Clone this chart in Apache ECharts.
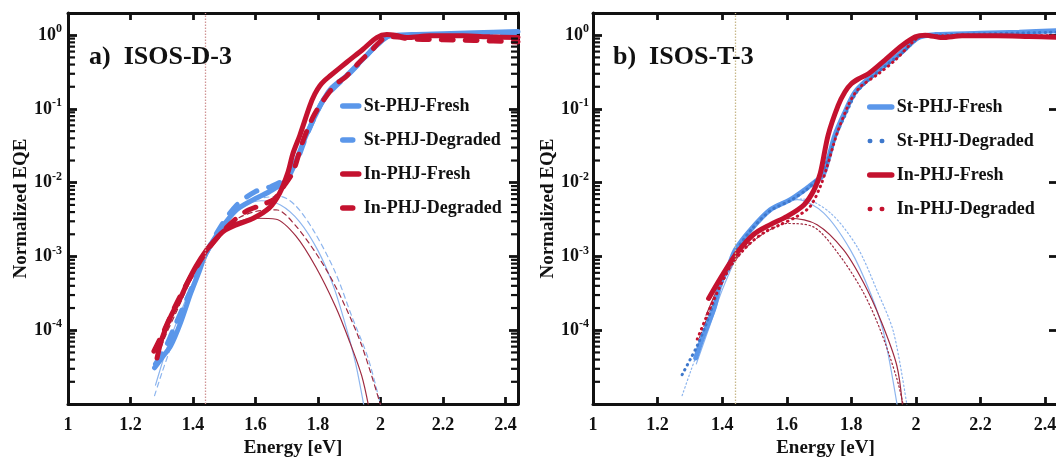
<!DOCTYPE html>
<html>
<head>
<meta charset="utf-8">
<script src="https://cdn.jsdelivr.net/npm/echarts@6/dist/echarts.min.js"></script>
<style>
html, body { margin: 0; padding: 0; background: #fff; }
#chart { width: 1056px; height: 458px; }
</style>
</head>
<body>
<div id="chart"></div>
<script>
// energy [eV] / normalized EQE pairs
// panel a) ISOS-D-3
const aStFresh = [[1.277,3.1e-5],[1.30,4.2e-5],[1.329,6.2e-5],[1.36,1.26e-4],[1.393,3.2e-4],[1.42,6.3e-4],[1.44,1.07e-3],[1.487,2.3e-3],[1.54,4.3e-3],[1.593,5.9e-3],[1.645,7.6e-3],[1.70,1.1e-2],[1.73,2.0e-2],[1.76,4.2e-2],[1.79,7.9e-2],[1.81,0.117],[1.84,0.186],[1.89,0.28],[1.945,0.48],[1.99,0.74],[2.03,0.98],[2.10,1.02],[2.20,1.05],[2.30,1.08],[2.44,1.12]]
const aStDegraded = [[1.28,3.5e-5],[1.31,5.6e-5],[1.34,1.1e-4],[1.39,3.3e-4],[1.44,1.07e-3],[1.49,2.6e-3],[1.54,5.0e-3],[1.60,7.6e-3],[1.65,8.9e-3],[1.69,1.1e-2],[1.73,1.9e-2],[1.76,4.0e-2],[1.79,7.9e-2],[1.82,0.138],[1.86,0.21],[1.90,0.30],[1.95,0.50],[1.99,0.76],[2.03,0.98],[2.20,1.0],[2.44,1.05]]
const aInFresh = [[1.285,4.2e-5],[1.30,7.6e-5],[1.329,1.55e-4],[1.36,2.75e-4],[1.382,4.4e-4],[1.41,7.4e-4],[1.44,1.17e-3],[1.47,1.66e-3],[1.498,2.2e-3],[1.54,2.7e-3],[1.593,3.3e-3],[1.645,4.6e-3],[1.677,7.2e-3],[1.703,1.35e-2],[1.72,2.5e-2],[1.742,4.4e-2],[1.774,0.111],[1.79,0.16],[1.806,0.207],[1.822,0.245],[1.838,0.28],[1.892,0.43],[1.945,0.65],[1.988,0.93],[2.02,1.02],[2.05,0.99],[2.084,0.93],[2.158,0.98],[2.265,0.98],[2.35,0.95],[2.44,0.93]]
const aInDegraded = [[1.275,5.2e-5],[1.308,1.0e-4],[1.34,2.0e-4],[1.382,4.4e-4],[1.44,1.12e-3],[1.50,2.3e-3],[1.566,4.0e-3],[1.62,5.0e-3],[1.66,6.0e-3],[1.69,8.9e-3],[1.72,1.4e-2],[1.75,3.5e-2],[1.785,7.9e-2],[1.827,0.15],[1.86,0.22],[1.892,0.28],[1.93,0.42],[1.966,0.59],[2.009,0.89],[2.04,0.95],[2.10,0.89],[2.20,0.87],[2.30,0.85],[2.44,0.81]]
const aStFreshFit = [[1.28,1.8e-5],[1.32,6.3e-5],[1.37,2.2e-4],[1.42,7.1e-4],[1.47,1.8e-3],[1.52,3.4e-3],[1.57,5.0e-3],[1.62,5.7e-3],[1.68,5.0e-3],[1.74,3.0e-3],[1.80,1.2e-3],[1.85,3.9e-4],[1.89,1.1e-4],[1.92,3.6e-5],[1.95,8e-6]]
const aStDegradedFit = [[1.277,1.3e-5],[1.30,2.6e-5],[1.33,6e-5],[1.38,2.2e-4],[1.43,7.5e-4],[1.48,1.9e-3],[1.53,3.7e-3],[1.58,5.4e-3],[1.63,6.3e-3],[1.68,6.5e-3],[1.73,4.8e-3],[1.79,2.1e-3],[1.856,6.0e-4],[1.908,1.55e-4],[1.961,4.1e-5],[2.005,8e-6]]
const aInFreshFit = [[1.29,5e-5],[1.33,1.4e-4],[1.38,4.2e-4],[1.43,1.0e-3],[1.48,1.9e-3],[1.53,2.8e-3],[1.60,3.3e-3],[1.666,3.2e-3],[1.729,1.9e-3],[1.793,7.2e-4],[1.856,2.1e-4],[1.898,7.6e-5],[1.94,2.4e-5],[1.965,8e-6]]
const aInDegradedFit = [[1.28,3.5e-5],[1.31,8e-5],[1.35,1.9e-4],[1.40,5.5e-4],[1.45,1.3e-3],[1.50,2.4e-3],[1.55,3.4e-3],[1.603,4.1e-3],[1.666,4.3e-3],[1.729,2.6e-3],[1.814,8.1e-4],[1.877,2.6e-4],[1.94,6.2e-5],[2.006,8e-6]]
// panel b) ISOS-T-3
const bStFresh = [[1.318,4.2e-5],[1.335,7.0e-5],[1.354,1.15e-4],[1.375,2.0e-4],[1.395,4.4e-4],[1.418,7.0e-4],[1.441,1.23e-3],[1.488,2.3e-3],[1.549,4.3e-3],[1.611,5.9e-3],[1.663,8.5e-3],[1.69,1.05e-2],[1.712,1.26e-2],[1.73,2.2e-2],[1.749,4.4e-2],[1.78,9.0e-2],[1.811,0.168],[1.853,0.257],[1.904,0.39],[1.956,0.59],[2.008,0.93],[2.06,1.02],[2.20,1.06],[2.32,1.1],[2.44,1.15]]
const bStDegraded = [[1.276,2.5e-5],[1.302,4.1e-5],[1.323,6.2e-5],[1.35,1.2e-4],[1.395,4.2e-4],[1.441,1.15e-3],[1.49,2.3e-3],[1.55,4.2e-3],[1.61,5.7e-3],[1.66,8.0e-3],[1.70,1.2e-2],[1.73,2.2e-2],[1.752,4.3e-2],[1.785,9e-2],[1.815,0.165],[1.855,0.25],[1.905,0.38],[1.958,0.58],[2.01,0.92],[2.06,1.0],[2.20,1.04],[2.44,1.1]]
const bInFresh = [[1.358,2.7e-4],[1.405,6.0e-4],[1.446,1.12e-3],[1.498,2.0e-3],[1.549,2.7e-3],[1.601,3.5e-3],[1.653,5.0e-3],[1.684,7.9e-3],[1.704,1.35e-2],[1.728,4.4e-2],[1.759,0.111],[1.78,0.17],[1.80,0.22],[1.825,0.26],[1.853,0.30],[1.904,0.46],[1.956,0.72],[1.998,0.95],[2.029,1.0],[2.081,0.93],[2.143,0.98],[2.25,0.98],[2.35,0.96],[2.44,0.94]]
const bInDegraded = [[1.323,7.6e-5],[1.374,2.6e-4],[1.426,7.4e-4],[1.477,1.38e-3],[1.529,2.1e-3],[1.58,2.7e-3],[1.632,3.5e-3],[1.673,4.8e-3],[1.704,8.9e-3],[1.725,1.66e-2],[1.754,4.4e-2],[1.79,0.111],[1.81,0.16],[1.832,0.207],[1.884,0.30],[1.936,0.46],[1.988,0.79],[2.019,0.98],[2.10,0.98],[2.25,0.99],[2.44,0.98]]
const bStFreshFit = [[1.32,3.5e-5],[1.36,1.1e-4],[1.40,3.5e-4],[1.45,1.1e-3],[1.50,2.6e-3],[1.56,4.6e-3],[1.632,5.9e-3],[1.714,3.9e-3],[1.797,1.23e-3],[1.859,3.2e-4],[1.90,9.3e-5],[1.945,8e-6]]
const bStDegradedFit = [[1.276,1.3e-5],[1.30,2.6e-5],[1.33,6e-5],[1.37,1.8e-4],[1.42,6.5e-4],[1.48,1.9e-3],[1.55,4.3e-3],[1.60,5.8e-3],[1.65,6.0e-3],[1.735,3.9e-3],[1.818,1.35e-3],[1.879,3.5e-4],[1.931,9.3e-5],[1.975,8e-6]]
const bInFreshFit = [[1.35,1.6e-4],[1.40,5.0e-4],[1.45,1.2e-3],[1.50,2.1e-3],[1.55,2.8e-3],[1.611,3.3e-3],[1.694,2.7e-3],[1.776,1.23e-3],[1.838,4.4e-4],[1.89,1.4e-4],[1.941,3.3e-5],[1.96,8e-6]]
const bInDegradedFit = [[1.33,8e-5],[1.38,2.8e-4],[1.43,7.5e-4],[1.48,1.4e-3],[1.54,2.2e-3],[1.601,2.8e-3],[1.684,2.5e-3],[1.766,1.0e-3],[1.838,3.2e-4],[1.89,1.0e-4],[1.941,2.2e-5],[1.965,8e-6]]

const bandGap = 1.442
const legendNames = ['St-PHJ-Fresh', 'St-PHJ-Degraded', 'In-PHJ-Fresh', 'In-PHJ-Degraded']
const logMinorTicks = []
;[1e-5, 1e-4, 1e-3, 1e-2, 1e-1].forEach(d => {
  for (let k = 2; k <= 9; k++) logMinorTicks.push(+(k * d).toPrecision(3))
})
const X_MIN = 1, X_MAX = 2.44, Y_MIN = 1e-5, Y_MAX = 2

const FONT = "'Liberation Serif', 'DejaVu Serif', serif"
const INK = '#111'
const BLUE = '#5b97ea'
const BLUE_DOT = '#3e78cc'
const RED = '#c4122f'
const BLUE_FIT = '#8db5ee'
const RED_FIT = '#9e2a40'

const chart = echarts.init(document.getElementById('chart'))

function xAxis(gi, pos) {
  return {
    type: 'value', gridIndex: gi, position: pos,
    min: X_MIN, max: X_MAX, interval: 0.2,
    axisLine: { show: true, onZero: false, lineStyle: { color: INK, width: 3 } },
    axisTick: { show: true, inside: true, length: 7, lineStyle: { color: INK, width: 2.8 } },
    splitLine: { show: false },
    axisLabel: pos === 'bottom' ? {
      margin: 12, color: INK, fontSize: 18, fontWeight: 'bold', fontFamily: FONT,
      formatter: v => Math.abs(v * 5 - Math.round(v * 5)) < 1e-6 ? String(+v.toFixed(1)) : ''
    } : { show: false },
    name: pos === 'bottom' ? 'Energy [eV]' : '',
    nameLocation: 'middle', nameGap: 35,
    nameTextStyle: { color: INK, fontSize: 19, fontWeight: 'bold', fontFamily: FONT }
  }
}

function yAxis(gi, pos, gap, margin) {
  return {
    type: 'log', logBase: 10, gridIndex: gi, position: pos,
    min: Y_MIN, max: Y_MAX,
    axisLine: { show: true, onZero: false, lineStyle: { color: INK, width: 3 } },
    axisTick: { show: true, inside: true, length: 9, lineStyle: { color: INK, width: 2.8 } },
    splitLine: { show: false },
    axisLabel: pos === 'left' ? {
      margin: margin,
      formatter: v => {
        const e = Math.log10(v)
        if (Math.abs(e - Math.round(e)) > 1e-6 || Math.round(e) <= -5) return ''
        return '{b|10}{s|' + Math.round(e) + '}'
      },
      rich: {
        b: { fontSize: 18, fontWeight: 'bold', fontFamily: FONT, color: INK, lineHeight: 24 },
        s: { fontSize: 12, fontWeight: 'bold', fontFamily: FONT, color: INK, lineHeight: 12, verticalAlign: 'top' }
      }
    } : { show: false },
    name: pos === 'left' ? 'Normalized EQE' : '',
    nameLocation: 'middle', nameGap: gap,
    nameTextStyle: { color: INK, fontSize: 19, fontWeight: 'bold', fontFamily: FONT }
  }
}

function curve(name, data, color, width, type, axis, z) {
  return {
    name: name, type: 'line', data: data,
    xAxisIndex: axis, yAxisIndex: axis,
    showSymbol: false, symbol: 'none', smooth: 0.3, z: z,
    lineStyle: { color: color, width: width, type: type, cap: 'round' },
    itemStyle: { color: color },
    emphasis: { disabled: true }
  }
}

// small log ticks drawn inside the frame on both sides
function minorTicks(axis, x, dx) {
  return {
    type: 'scatter', xAxisIndex: axis, yAxisIndex: axis, silent: true, clip: false, z: 10,
    data: logMinorTicks.map(v => [x, v]),
    symbol: 'rect', symbolSize: [7, 2.2], symbolOffset: [dx, 0],
    itemStyle: { color: INK, opacity: 1 },
    emphasis: { disabled: true }
  }
}

function gapLine(axis, color) {
  return {
    type: 'line', data: [], xAxisIndex: axis, yAxisIndex: axis, z: 1,
    markLine: {
      silent: true, symbol: ['none', 'none'], label: { show: false },
      lineStyle: { color: color, width: 1.3, type: [1.5, 1.5] },
      data: [{ xAxis: bandGap }]
    }
  }
}

// second panel uses the same labels; a zero-width space keeps its legend separate
const bn = legendNames.map(n => n + '\u200b')

const legendText = { color: INK, fontSize: 18, fontWeight: 'bold', fontFamily: FONT, lineHeight: 20 }
const hideSym = { opacity: 0 }

const option = {
  animation: false,
  backgroundColor: '#fff',
  title: [
    { text: 'a)  ISOS-D-3', left: 84, top: 39, textStyle: { color: INK, fontSize: 26, fontWeight: 'bold', fontFamily: FONT } },
    { text: 'b)  ISOS-T-3', left: 608, top: 39, textStyle: { color: INK, fontSize: 26, fontWeight: 'bold', fontFamily: FONT } }
  ],
  legend: [
    {
      orient: 'vertical', left: 335, top: 91,
      itemWidth: 16, itemHeight: 14, itemGap: 14, selectedMode: false,
      textStyle: legendText,
      data: [
        { name: legendNames[0], itemStyle: hideSym, lineStyle: { width: 5.5, cap: 'round' } },
        { name: legendNames[1], itemStyle: hideSym, lineStyle: { width: 5.5, cap: 'round', type: [10, 14] } },
        { name: legendNames[2], itemStyle: hideSym, lineStyle: { width: 5.5, cap: 'round' } },
        { name: legendNames[3], itemStyle: hideSym, lineStyle: { width: 5.5, cap: 'round', type: [10, 14] } }
      ]
    },
    {
      orient: 'vertical', left: 862, top: 92,
      itemWidth: 22, itemHeight: 14, itemGap: 14, selectedMode: false,
      textStyle: legendText,
      data: [
        { name: bn[0], itemStyle: hideSym, lineStyle: { width: 5.5, cap: 'round' } },
        { name: bn[1], itemStyle: hideSym, lineStyle: { width: 4.5, cap: 'round', type: [0.5, 11.5] } },
        { name: bn[2], itemStyle: hideSym, lineStyle: { width: 5.5, cap: 'round' } },
        { name: bn[3], itemStyle: hideSym, lineStyle: { width: 4.5, cap: 'round', type: [0.5, 11.5] } }
      ]
    }
  ],
  grid: [
    { left: 68, top: 13, width: 450, height: 391, outerBoundsMode: 'none' },
    { left: 593, top: 13, width: 465, height: 391, outerBoundsMode: 'none' }
  ],
  xAxis: [xAxis(0, 'bottom'), xAxis(0, 'top'), xAxis(1, 'bottom'), xAxis(1, 'top')],
  yAxis: [yAxis(0, 'left', 37, 6), yAxis(0, 'right', 0, 0), yAxis(1, 'left', 34, 4), yAxis(1, 'right', 0, 0)],
  series: [
    gapLine(0, '#d09494'),
    curve('fit-a1', aStFreshFit, BLUE_FIT, 1.2, 'solid', 0, 2),
    curve('fit-a2', aStDegradedFit, BLUE_FIT, 1.2, [5, 4], 0, 2),
    curve('fit-a3', aInFreshFit, RED_FIT, 1.2, 'solid', 0, 2),
    curve('fit-a4', aInDegradedFit, RED_FIT, 1.2, [5, 4], 0, 2),
    curve(legendNames[0], aStFresh, BLUE, 5, 'solid', 0, 3),
    curve(legendNames[1], aStDegraded, BLUE, 5, [12, 12], 0, 3),
    curve(legendNames[2], aInFresh, RED, 5, 'solid', 0, 4),
    curve(legendNames[3], aInDegraded, RED, 5, [12, 12], 0, 4),
    minorTicks(0, X_MIN, 3.5),
    minorTicks(0, X_MAX, -3.5),

    gapLine(2, '#c8b88a'),
    curve('fit-b1', bStFreshFit, BLUE_FIT, 1.2, 'solid', 2, 2),
    curve('fit-b2', bStDegradedFit, BLUE_FIT, 1.2, [1.5, 2.5], 2, 2),
    curve('fit-b3', bInFreshFit, RED_FIT, 1.2, 'solid', 2, 2),
    curve('fit-b4', bInDegradedFit, RED_FIT, 1.2, [1.5, 2.5], 2, 2),
    curve(bn[0], bStFresh, BLUE, 5, 'solid', 2, 3),
    curve(bn[1], bStDegraded, BLUE_DOT, 3, [0.5, 5], 2, 3),
    curve(bn[2], bInFresh, RED, 5, 'solid', 2, 4),
    curve(bn[3], bInDegraded, RED, 3, [0.5, 5], 2, 4),
    minorTicks(2, X_MIN, 3.5)
  ]
}

chart.setOption(option)
window.addEventListener('resize', function () {
  chart.resize()
})
</script>
</body>
</html>
